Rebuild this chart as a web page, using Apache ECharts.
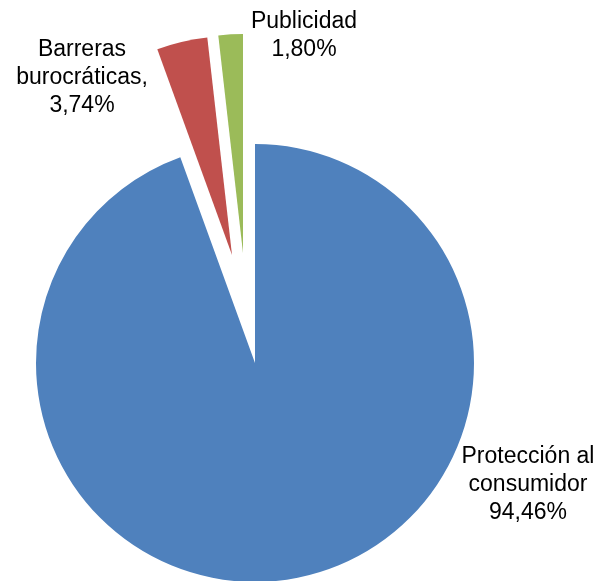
<!DOCTYPE html>
<html>
<head>
<meta charset="utf-8">
<script src="https://cdn.jsdelivr.net/npm/echarts@6/dist/echarts.min.js"></script>
<style>
  html, body { margin: 0; padding: 0; background: #ffffff; }
  #chart { width: 601px; height: 581px; }
</style>
</head>
<body>
<div id="chart"></div>
<script>
// categorias y valores (%)
const categories = ["Protección al consumidor", "Barreras burocráticas", "Publicidad"];
const labelNames = ["Protección al\nconsumidor", "Barreras\nburocráticas,", "Publicidad"];
const values = [94.46, 3.74, 1.80];
const colors = ["#4F81BD", "#C0504D", "#9BBB59"];

// centro del bloque de texto de cada etiqueta
const labelPos = [
  [528, 485],
  [82, 78],
  [304, 36],
];

// cada porcion se dibuja en su propio pie (mismos valores) para poder
// separarla del centro como en el original
const sliceCenters = [
  [255, 363],
  [232, 255],
  [243, 253],
];

const myChart = echarts.init(document.getElementById("chart"));

const labelText = function (i) {
  return labelNames[i] + "\n" + values[i].toFixed(2).replace(".", ",") + "%";
};

const option = {
  animation: false,
  backgroundColor: "#ffffff",
  graphic: categories.map(function (name, i) {
    return {
      type: "text",
      x: labelPos[i][0],
      y: labelPos[i][1],
      style: {
        text: labelText(i),
        fill: "#000000",
        font: '23px "Liberation Sans", Arial, sans-serif',
        lineHeight: 28,
        align: "center",
        verticalAlign: "middle",
      },
      z: 10,
    };
  }),
  series: sliceCenters.map(function (c, k) {
    return {
      type: "pie",
      center: c,
      radius: [0, 219],
      startAngle: 90,
      clockwise: true,
      silent: true,
      emphasis: { disabled: true },
      label: { show: false },
      labelLine: { show: false },
      data: categories.map(function (name, i) {
        return {
          name: name,
          value: values[i],
          itemStyle: { color: i === k ? colors[i] : "transparent" },
        };
      }),
    };
  }),
};

myChart.setOption(option);
</script>
</body>
</html>
